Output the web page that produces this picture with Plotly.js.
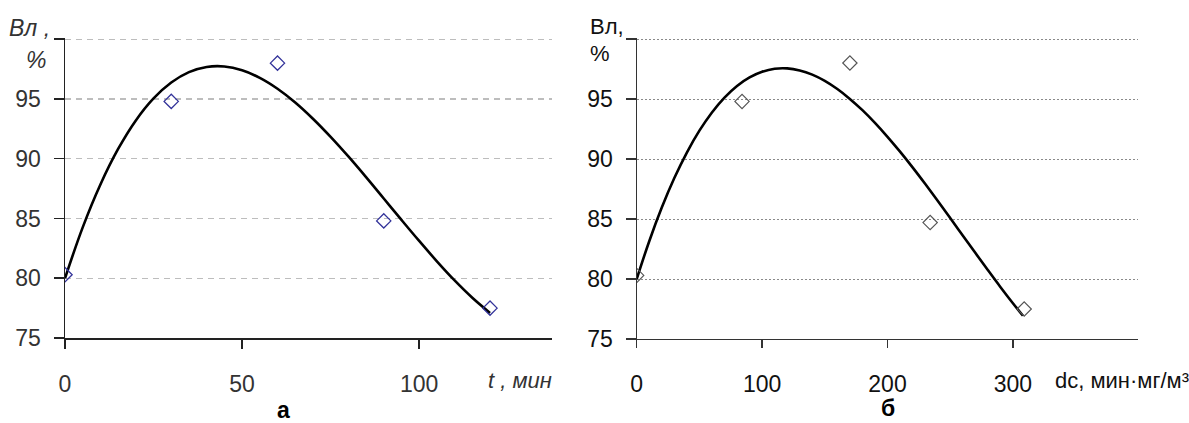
<!DOCTYPE html>
<html>
<head>
<meta charset="utf-8">
<script src="https://cdn.plot.ly/plotly-3.0.1.min.js"></script>
<style>html,body{margin:0;padding:0;background:#fff;}#chart{width:1189px;height:423px;}</style>
</head>
<body>
<div id="chart"></div>
<script>
// Panel а: measured points (t, min vs Вл, %)
const tPoints = [0, 30, 60, 90, 120];
const vlPointsA = [80.3, 94.8, 98.0, 84.8, 77.5];
// Panel а: trend curve
const tCurve = [0, 5, 10, 15, 20, 25, 30, 35, 40, 45, 50, 55, 60, 65, 70, 75, 80, 85, 90, 95, 100, 105, 110, 115, 120];
const vlCurveA = [80.0, 84.26, 87.85, 90.82, 93.21, 95.05, 96.38, 97.25, 97.68, 97.72, 97.40, 96.77, 95.86, 94.71, 93.35, 91.83, 90.19, 88.46, 86.67, 84.88, 83.12, 81.42, 79.82, 78.37, 77.10];

// Panel б: measured points (dc vs Вл, %)
const dcPoints = [0, 84, 170, 234, 309];
const vlPointsB = [80.3, 94.8, 98.0, 84.7, 77.5];
// Panel б: trend curve
const dcCurve = [0, 10, 20, 30, 40, 50, 60, 70, 80, 90, 100, 110, 120, 130, 140, 150, 160, 170, 180, 190, 200, 210, 220, 230, 240, 250, 260, 270, 280, 290, 300, 308];
const vlCurveB = [80.0, 83.15, 85.95, 88.41, 90.54, 92.36, 93.88, 95.12, 96.09, 96.80, 97.27, 97.52, 97.55, 97.38, 97.03, 96.51, 95.83, 95.01, 94.07, 93.01, 91.85, 90.61, 89.30, 87.93, 86.52, 85.08, 83.63, 82.18, 80.75, 79.34, 77.98, 76.94];

const yTicks = [75, 80, 85, 90, 95, 100];
const yTickText = ['75', '80', '85', '90', '95', ''];
const xTicksA = [0, 50, 100];
const xTicksB = [0, 100, 200, 300];

const W = 1189, H = 423;
const px = v => v / W;
const py = v => 1 - v / H;
const FONT = 'Arial, "Liberation Sans", sans-serif';
const FS = 23;
const Y_TOP = 100.12;

const traces = [
  {x: tCurve, y: vlCurveA, xaxis: 'x', yaxis: 'y', mode: 'lines', line: {color: '#000', width: 2.6, shape: 'spline'}, hoverinfo: 'skip'},
  {x: tPoints, y: vlPointsA, xaxis: 'x', yaxis: 'y', mode: 'markers', marker: {symbol: 'diamond-open', size: 11, color: '#33339a', line: {width: 1.3, color: '#33339a'}}},
  {x: dcCurve, y: vlCurveB, xaxis: 'x2', yaxis: 'y2', mode: 'lines', line: {color: '#000', width: 2.6, shape: 'spline'}, hoverinfo: 'skip'},
  {x: dcPoints, y: vlPointsB, xaxis: 'x2', yaxis: 'y2', mode: 'markers', marker: {symbol: 'diamond-open', size: 11, color: '#555', line: {width: 1.2, color: '#555'}}}
];

const tickFontA = {family: FONT, size: FS, color: '#333'};
const tickFontB = {family: FONT, size: FS, color: '#111'};

const layout = {
  width: W, height: H,
  margin: {l: 0, r: 0, t: 0, b: 0},
  paper_bgcolor: '#fff', plot_bgcolor: 'rgba(0,0,0,0)',
  showlegend: false,
  xaxis: {domain: [px(65), px(552)], range: [0, 137.5], anchor: 'y',
    tickvals: xTicksA, ticks: 'outside', ticklen: 9, tickwidth: 1.5, tickcolor: '#222',
    showline: true, linecolor: '#222', linewidth: 1.5, showgrid: false, zeroline: false,
    tickfont: tickFontA, ticklabelstandoff: 16},
  yaxis: {domain: [py(338), py(338 - (Y_TOP - 75) * 11.95)], range: [75, Y_TOP], anchor: 'x',
    tickvals: yTicks, ticktext: yTickText, ticks: 'outside', ticklen: 10, tickwidth: 1.5, tickcolor: '#222',
    showline: true, linecolor: '#222', linewidth: 1.5, zeroline: false,
    showgrid: true, gridcolor: '#bdbdbd', gridwidth: 1.2, griddash: '6px,5px',
    tickfont: tickFontA, ticklabelstandoff: 8},
  xaxis2: {domain: [px(636.7), px(1138.3)], range: [0, 400], anchor: 'y2',
    tickvals: xTicksB, ticks: 'outside', ticklen: 8, tickwidth: 1.2, tickcolor: '#333',
    showline: true, linecolor: '#333', linewidth: 1.2, showgrid: false, zeroline: false,
    tickfont: tickFontB, ticklabelstandoff: 16},
  yaxis2: {domain: [py(339), py(339 - (Y_TOP - 75) * 12)], range: [75, Y_TOP], anchor: 'x2',
    tickvals: yTicks, ticktext: yTickText, ticks: 'outside', ticklen: 10, tickwidth: 1.2, tickcolor: '#333',
    showline: true, linecolor: '#333', linewidth: 1.2, zeroline: false,
    showgrid: true, gridcolor: '#8a8a8a', gridwidth: 1, griddash: '2px,2px',
    tickfont: tickFontB, ticklabelstandoff: 8},
  annotations: [
    {text: '<i>Вл ,</i>', x: px(29), y: py(28), xref: 'paper', yref: 'paper', xanchor: 'center', yanchor: 'middle', showarrow: false, font: {family: FONT, size: FS, color: '#333'}},
    {text: '<i>%</i>', x: px(36), y: py(60), xref: 'paper', yref: 'paper', xanchor: 'center', yanchor: 'middle', showarrow: false, font: {family: FONT, size: FS, color: '#333'}},
    {text: '<i>t</i> <i>, мин</i>', x: px(486), y: py(380), xref: 'paper', yref: 'paper', xanchor: 'left', yanchor: 'middle', showarrow: false, font: {family: FONT, size: FS - 1, color: '#333'}},
    {text: 'Вл,', x: px(588), y: py(27), xref: 'paper', yref: 'paper', xanchor: 'left', yanchor: 'middle', showarrow: false, font: {family: FONT, size: FS - 1, color: '#111'}},
    {text: '%', x: px(588), y: py(54), xref: 'paper', yref: 'paper', xanchor: 'left', yanchor: 'middle', showarrow: false, font: {family: FONT, size: FS - 1, color: '#111'}},
    {text: 'dc, мин·мг/м³', x: px(1053), y: py(380), xref: 'paper', yref: 'paper', xanchor: 'left', yanchor: 'middle', showarrow: false, font: {family: FONT, size: FS - 1, color: '#111'}},
    {text: '<b>а</b>', x: px(283), y: py(410), xref: 'paper', yref: 'paper', xanchor: 'center', yanchor: 'middle', showarrow: false, font: {family: FONT, size: 23, color: '#000'}},
    {text: '<b>б</b>', x: px(888), y: py(408), xref: 'paper', yref: 'paper', xanchor: 'center', yanchor: 'middle', showarrow: false, font: {family: FONT, size: 23, color: '#000'}}
  ]
};

Plotly.newPlot('chart', traces, layout, {displayModeBar: false, staticPlot: true});
</script>
</body>
</html>
